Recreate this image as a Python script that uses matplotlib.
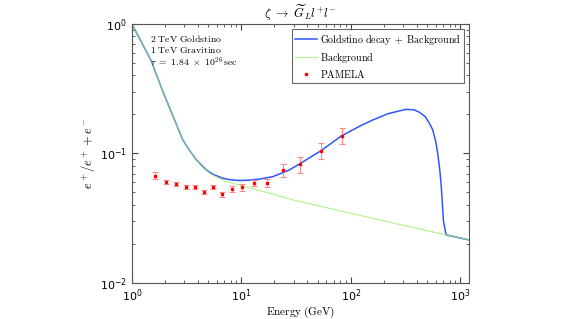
import numpy as np
import matplotlib.pyplot as plt

# background e+/(e+ + e-)
E_bg = [1.0, 1.5, 1.92, 2.4, 2.92, 3.3, 3.87, 4.4, 5.13, 6.0, 7.0, 8.2, 9.6, 12.0, 15.0, 20.0, 29.5, 50.0, 100.0, 200.0, 400.0, 743.0, 1200.0]
bg = [1.0, 0.52, 0.30, 0.19, 0.127, 0.108, 0.089, 0.079, 0.0703, 0.0653, 0.0617, 0.0590, 0.0571, 0.0543, 0.0514, 0.0483, 0.0438, 0.0395, 0.0345, 0.0302, 0.0264, 0.0235, 0.0215]

# goldstino decay + background
E_tot = [1.0, 1.5, 1.92, 2.4, 2.92, 3.3, 3.87, 4.4, 4.78, 5.5, 6.8, 8.0, 9.6, 12.0, 15.0, 19.4, 27.5, 34.0, 53.5, 81.6, 120.0, 158.0, 220.0, 320.0, 380.0, 424.0, 480.0, 523.0, 561.0, 598.0, 623.0, 650.0, 670.0, 703.0, 743.0, 1200.0]
tot = [1.0, 0.52, 0.30, 0.19, 0.127, 0.108, 0.0895, 0.080, 0.0746, 0.0690, 0.0643, 0.0626, 0.0618, 0.0622, 0.0636, 0.0662, 0.0746, 0.0830, 0.105, 0.136, 0.162, 0.181, 0.203, 0.219, 0.217, 0.208, 0.192, 0.171, 0.152, 0.123, 0.100, 0.075, 0.0572, 0.0300, 0.0235, 0.0215]

# PAMELA positron fraction
E_pam = [1.64, 2.05, 2.55, 3.11, 3.77, 4.56, 5.52, 6.68, 8.26, 10.19, 13.1, 17.3, 23.8, 34.2, 53.6, 82.6]
f_pam = [0.0673, 0.0607, 0.0583, 0.0551, 0.0550, 0.0505, 0.0553, 0.0482, 0.0531, 0.0546, 0.0590, 0.0592, 0.0744, 0.0825, 0.105, 0.137]
err_pam = [0.0040, 0.0022, 0.0021, 0.0020, 0.0020, 0.0018, 0.0020, 0.0020, 0.0027, 0.0033, 0.0030, 0.0041, 0.0082, 0.0121, 0.0150, 0.0195]

plt.rcParams['mathtext.fontset'] = 'dejavusans'
plt.rcParams['font.family'] = 'DejaVu Sans'

fig = plt.figure(figsize=(5.81, 3.19), dpi=100)
ax = fig.add_axes([0.227, 0.113, 0.580, 0.812])

ax.plot(E_tot, tot, color='#3355ff', lw=1.1, label='Goldstino decay + Background')
ax.plot(E_bg, bg, color='#99ee66', lw=0.9, alpha=0.7, label='Background')
ax.errorbar(E_pam, f_pam, yerr=err_pam, fmt='s', ms=1.8, color='red', ecolor='#ff8888',
            elinewidth=0.8, capsize=2.5, capthick=0.8)
ax.plot([], [], 's', ms=1.8, color='red', label='PAMELA')

ax.set_xscale('log')
ax.set_yscale('log')
ax.set_xlim(1, 1200)
ax.set_ylim(1e-2, 1)

ax.tick_params(which='both', direction='in', top=True, right=True, labelsize=8, colors='#444444', labelcolor='black')
ax.tick_params(which='major', length=4)
ax.tick_params(which='minor', length=2)
for s in ax.spines.values():
    s.set_color('#555555')
    s.set_linewidth(0.8)

ax.set_title(r'$\zeta\ \rightarrow\ \widetilde{G}_L l^{+} l^{-}$', fontsize=9, math_fontfamily='cm', pad=4)
ax.set_xlabel(r'$\mathrm{Energy\ (GeV)}$', fontsize=8, math_fontfamily='cm', labelpad=0)
ax.set_ylabel(r'$e^+/e^+ + e^-$', fontsize=9, math_fontfamily='cm', labelpad=2)

ax.text(0.055, 0.945, r'$\mathrm{2\ TeV\ Goldstino}$', transform=ax.transAxes, fontsize=7, math_fontfamily='cm', va='center')
ax.text(0.055, 0.900, r'$\mathrm{1\ TeV\ Gravitino}$', transform=ax.transAxes, fontsize=7, math_fontfamily='cm', va='center')
ax.text(0.055, 0.853, r'$\tau\ =\ 1.84\ \times\ 10^{26}\, \mathrm{sec}$', transform=ax.transAxes, fontsize=7, math_fontfamily='cm', va='center')

leg = ax.legend(loc='upper right', frameon=True, fancybox=False, edgecolor='#444444',
                borderaxespad=0.5, borderpad=0.3, handlelength=2.2, handletextpad=0.3, labelspacing=0.3,
                prop=dict(family='serif', math_fontfamily='cm', size=7.2))
leg.get_frame().set_linewidth(0.8)
for t in leg.get_texts():
    t.set_text('$\\mathrm{' + t.get_text().replace(' ', '\\ ') + '}$')

fig.savefig('out.png', dpi=100)
